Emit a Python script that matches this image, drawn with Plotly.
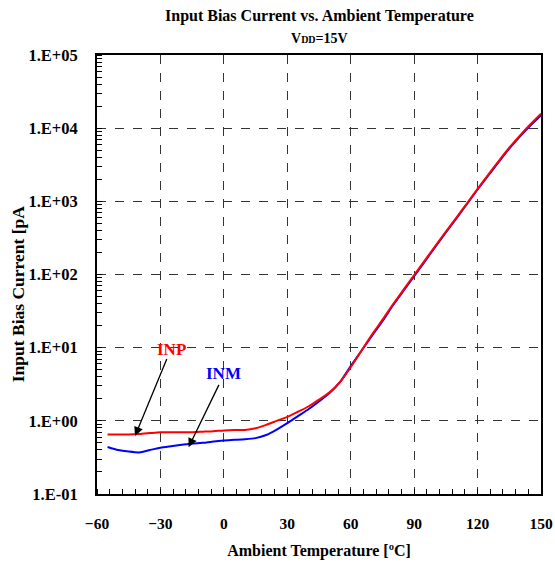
import plotly.graph_objects as go

temperature = [-55, -50, -45, -40, -35, -30, -25, -20, -15, -10, -5, 0, 5, 10, 15, 20, 25, 30, 35, 40,
               45, 50, 55, 60, 65, 70, 75, 80, 85, 90, 95, 100, 105, 110, 115, 120, 125, 130, 135, 140, 145, 150]
inp = [0.65, 0.65, 0.65, 0.66, 0.68, 0.70, 0.70, 0.70, 0.70, 0.71, 0.72, 0.74, 0.75, 0.75, 0.79, 0.88, 1.0, 1.13, 1.33, 1.57,
       1.95, 2.45, 3.4, 5.4, 9.0, 15, 24, 39, 62, 98, 155, 245, 385, 600, 940, 1480, 2300, 3550, 5400, 7900, 11300, 15800]
inm = [0.44, 0.40, 0.38, 0.37, 0.40, 0.43, 0.45, 0.47, 0.49, 0.50, 0.52, 0.54, 0.55, 0.56, 0.58, 0.64, 0.76, 0.93, 1.16, 1.44,
       1.84, 2.4, 3.4, 5.6, 9.0, 14.5, 23, 38, 60, 95, 150, 238, 375, 585, 920, 1450, 2250, 3450, 5250, 7650, 10900, 15000]

y_tickvals = [0.1, 1, 10, 100, 1000, 10000, 100000]
y_ticktext = ["1.E-01", "1.E+00", "1.E+01", "1.E+02", "1.E+03", "1.E+04", "1.E+05"]
x_tickvals = [-60, -30, 0, 30, 60, 90, 120, 150]

FONT = "Liberation Serif"

fig = go.Figure()
fig.add_trace(go.Scatter(x=temperature, y=inm, mode="lines", name="INM",
                         line=dict(color="#0000ff", width=2, shape="spline", smoothing=0.6)))
fig.add_trace(go.Scatter(x=temperature, y=inp, mode="lines", name="INP",
                         line=dict(color="#ff0000", width=2, shape="spline", smoothing=0.6)))

fig.update_layout(
    width=555, height=562,
    margin=dict(l=97, r=14, t=55, b=68),
    paper_bgcolor="white", plot_bgcolor="white",
    showlegend=False,
    font=dict(family=FONT, color="black"),
)

fig.update_xaxes(
    range=[-60, 150], tickvals=x_tickvals, ticks="", showline=True, mirror=True,
    linecolor="black", linewidth=2, showgrid=True, gridcolor="#333333", griddash="dash", gridwidth=1,
    zeroline=False, tickfont=dict(family=FONT, size=15.5, color="black", weight="bold"),
    ticklabelstandoff=14, automargin=False,
    minor=dict(ticks="inside", ticklen=5, tickcolor="black", dtick=6, tick0=-60, showgrid=False),
    title=dict(text="<b>Ambient Temperature [ºC]</b>", font=dict(family=FONT, size=16), standoff=14),
)
fig.update_yaxes(
    type="log", range=[-1, 5], tickvals=y_tickvals, ticktext=y_ticktext, ticks="",
    showline=True, mirror=True, linecolor="black", linewidth=2,
    showgrid=True, gridcolor="#333333", griddash="dash", gridwidth=1, zeroline=False,
    tickfont=dict(family=FONT, size=16.5, color="black", weight="bold"),
    ticklabelstandoff=14, automargin=False,
    minor=dict(ticks="inside", ticklen=5, tickcolor="black", dtick="D1", showgrid=False),
)

annotations = [
    dict(text="<b>Input Bias Current vs. Ambient Temperature</b>", xref="paper", yref="paper",
         x=0.5, y=1, yshift=39, showarrow=False, font=dict(family=FONT, size=16), yanchor="middle"),
    dict(text="<b>V<span style='font-size:10px'>DD</span>=15V</b>", xref="paper", yref="paper",
         x=0.5, y=1, yshift=17, showarrow=False, font=dict(family=FONT, size=14), yanchor="middle"),
    dict(text="<b>Input Bias Current [pA</b>", xref="paper", yref="paper", x=0, xshift=-79,
         y=0.455, showarrow=False, textangle=-90, font=dict(family=FONT, size=17.5), xanchor="center"),
    dict(text="<b>INP</b>", x=-24.9, y=0.98, xref="x", yref="y", showarrow=False,
         font=dict(family=FONT, size=17, color="#ff0000")),
    dict(text="<b>INM</b>", x=-0.1, y=0.649, xref="x", yref="y", showarrow=False,
         font=dict(family=FONT, size=17, color="#0000ff")),
    dict(text="", x=-42, y=-0.208, ax=-26.7, ay=0.867, xref="x", yref="y", axref="x", ayref="y",
         showarrow=True, arrowhead=2, arrowsize=1.4, arrowwidth=1.3, arrowcolor="black"),
    dict(text="", x=-16.7, y=-0.362, ax=-2.0, ay=0.512, xref="x", yref="y", axref="x", ayref="y",
         showarrow=True, arrowhead=2, arrowsize=1.4, arrowwidth=1.3, arrowcolor="black"),
]
fig.update_layout(annotations=annotations)

fig.write_html("out.html")
